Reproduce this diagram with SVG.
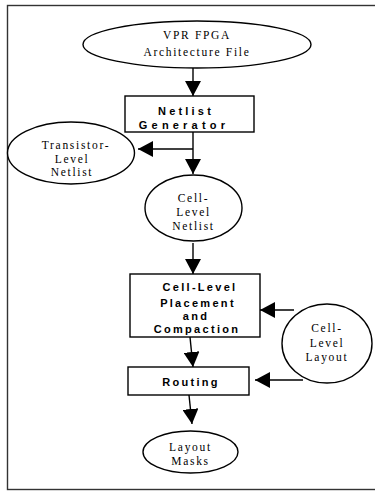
<svg xmlns="http://www.w3.org/2000/svg" width="375" height="491" viewBox="0 0 375 491">
<style>
.shape{fill:#fff;stroke:#000;stroke-width:1.4}
.conn{fill:none;stroke:#000;stroke-width:1.4}
.ser{font-family:"Liberation Serif",serif;font-size:11.5px;letter-spacing:1.7px;text-anchor:middle;fill:#000}
.bold{font-family:"Liberation Sans",Arial,sans-serif;font-size:11px;font-weight:bold;letter-spacing:2.3px;text-anchor:middle;fill:#000}
</style>
<defs>
<marker id="ah" markerUnits="userSpaceOnUse" markerWidth="16" markerHeight="16" viewBox="0 0 16 16" refX="15" refY="8" orient="auto">
<path d="M0,0 L15,8 L0,16 Z" fill="#000"/>
</marker>
</defs>
<rect x="7.5" y="5.5" width="380" height="484" fill="#fff" stroke="#333" stroke-width="1.4"/>
<g id="connectors">
<line class="conn" x1="193" y1="68" x2="193" y2="96" marker-end="url(#ah)"/>
<line class="conn" x1="193" y1="132" x2="193" y2="174" marker-end="url(#ah)"/>
<line class="conn" x1="193" y1="149" x2="138" y2="149" marker-end="url(#ah)"/>
<line class="conn" x1="193" y1="243" x2="193" y2="274" marker-end="url(#ah)"/>
<line class="conn" x1="294" y1="310" x2="260" y2="310" marker-end="url(#ah)"/>
<line class="conn" x1="190" y1="337" x2="193" y2="367" marker-end="url(#ah)"/>
<line class="conn" x1="303" y1="380" x2="255" y2="380" marker-end="url(#ah)"/>
<line class="conn" x1="189" y1="395" x2="192" y2="424" marker-end="url(#ah)"/>
</g>
<g id="arch">
<ellipse class="shape" cx="197" cy="44.5" rx="114" ry="23.5"/>
<text class="ser" x="197" y="39">VPR FPGA</text>
<text class="ser" x="197" y="56">Architecture File</text>
</g>
<g id="netgen">
<rect class="shape" x="125" y="96" width="129" height="36"/>
<text class="bold" x="186" y="115" style="letter-spacing:3.2px">Netlist</text>
<text class="bold" x="184" y="129" style="letter-spacing:4.2px">Generator</text>
</g>
<g id="transistor">
<ellipse class="shape" cx="71" cy="153" rx="63.5" ry="31"/>
<text class="ser" x="76" y="149">Transistor-</text>
<text class="ser" x="72" y="162.5">Level</text>
<text class="ser" x="72" y="176">Netlist</text>
</g>
<g id="cellnet">
<ellipse class="shape" cx="193.5" cy="208" rx="48.5" ry="33"/>
<text class="ser" x="193.5" y="202">Cell-</text>
<text class="ser" x="193.5" y="216">Level</text>
<text class="ser" x="193.5" y="229.5">Netlist</text>
</g>
<g id="placement">
<rect class="shape" x="130" y="274" width="130" height="63"/>
<text class="bold" x="200" y="291">Cell-Level</text>
<text class="bold" x="198" y="307">Placement</text>
<text class="bold" x="196" y="320">and</text>
<text class="bold" x="197" y="333">Compaction</text>
</g>
<g id="celllayout">
<ellipse class="shape" cx="327" cy="343.5" rx="45" ry="39.5"/>
<text class="ser" x="327" y="332">Cell-</text>
<text class="ser" x="327" y="347">Level</text>
<text class="ser" x="327" y="361">Layout</text>
</g>
<g id="routing">
<rect class="shape" x="128" y="367" width="121" height="28"/>
<text class="bold" x="191" y="386">Routing</text>
</g>
<g id="masks">
<ellipse class="shape" cx="190.5" cy="452" rx="47.5" ry="21"/>
<text class="ser" x="190.5" y="450.5">Layout</text>
<text class="ser" x="190.5" y="464.5">Masks</text>
</g>
</svg>
